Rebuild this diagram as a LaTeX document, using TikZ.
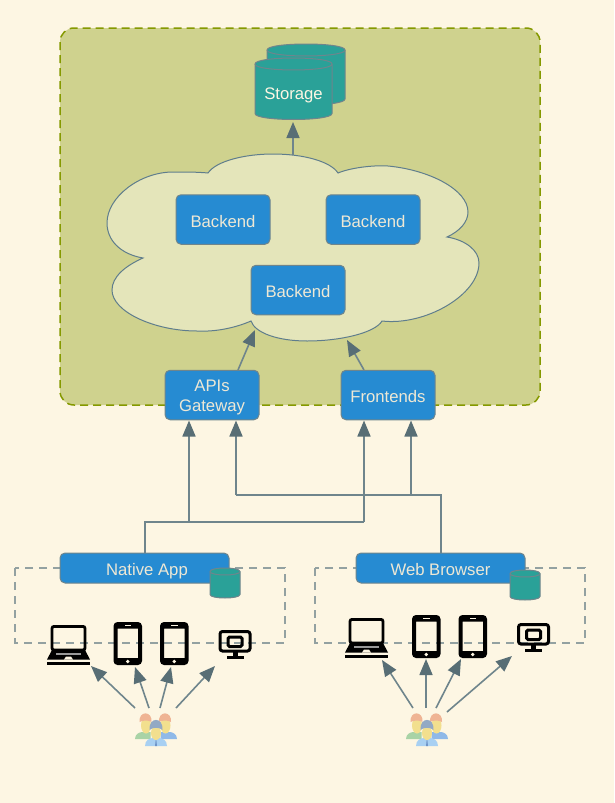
\documentclass[tikz,border=0pt]{standalone}
\usepackage{fontspec}
\setmainfont{Liberation Sans}
\usetikzlibrary{arrows.meta}
\definecolor{bgc}{HTML}{FDF6E3}
\definecolor{panelc}{HTML}{CFD28E}
\definecolor{paneledge}{HTML}{859900}
\definecolor{cloudc}{HTML}{E4E5BA}
\definecolor{cloudedge}{HTML}{5F7D8C}
\definecolor{bluec}{HTML}{268BD2}
\definecolor{tealc}{HTML}{2AA198}
\definecolor{edgec}{HTML}{6F858C}
\definecolor{tipc}{HTML}{586E75}
\definecolor{txtc}{HTML}{EEE8D5}
\definecolor{dashc}{HTML}{93A1A1}
\definecolor{hairc}{HTML}{EFB494}
\definecolor{facec}{HTML}{F2DF8E}
\definecolor{greenb}{HTML}{A9D3A6}
\definecolor{blueb}{HTML}{8FB9E8}
\definecolor{frontb}{HTML}{A8D0F2}
\definecolor{hairf}{HTML}{93A9C4}
\definecolor{tiec}{HTML}{6F95C8}
\newcommand{\dn}[2][2.7pt]{\raisebox{-#1}[\height][\depth]{\vphantom{Apg}#2}}
\tikzset{
  x=1pt,y=-1pt,
  bluebox/.style={draw=edgec,line width=1pt,fill=bluec,rounded corners=5pt,text=txtc,font=\fontsize{16.7}{20}\selectfont,inner sep=0pt,minimum width=94pt,minimum height=49.5pt},
  appbox/.style={bluebox,minimum width=169pt,minimum height=30pt},
  flow/.style={draw=edgec,line width=1.6pt,-{Triangle[length=16pt,width=13pt,color=tipc,fill=tipc]}},
  flowplain/.style={draw=edgec,line width=1.6pt},
  dropbox/.style={draw=dashc,line width=1.3pt,dash pattern=on 8pt off 6pt},
  cyl/.style={draw=edgec,line width=1pt,fill=tealc},
  pics/laptop/.style={code={
    \draw[black,line width=2.8pt,rounded corners=2pt] (5,1.4) rectangle (38,25);
    \fill[black] (5,25) -- (38,25) -- (43,34.5) -- (0,34.5) -- cycle;
    \fill[bgc] (17,34.5) -- (19,31.5) -- (24,31.5) -- (26,34.5) -- cycle;
    \fill[gray!80] (9,28) rectangle (34,29.5);
    \fill[black] (0,36.5) rectangle (43,39.5);
  }},
  pics/phone/.style={code={
    \fill[black,even odd rule,rounded corners=4pt] (0,0) rectangle (28.5,43)
      [sharp corners] (4,6.5) rectangle (24.5,36);
    \fill[bgc] (11,2.5) rectangle (17.5,4);
    \fill[bgc] (14.25,39.5) circle (1.9pt);
  }},
  pics/monitor/.style={code={
    \draw[black,line width=3pt,rounded corners=2.5pt] (1.5,1.5) rectangle (31.5,21);
    \draw[black,line width=3pt,rounded corners=1.5pt] (9.5,7) rectangle (23.5,16.5);
    \fill[black] (14,22) rectangle (19,26);
    \fill[black] (8,26) rectangle (25,29);
  }},
  pics/people/.style={code={
    % back figures
    \fill[greenb] (-20.5,19) .. controls (-20.5,14) and (-16,12) .. (-13,12) -- (-5,12) -- (-5,19) -- cycle;
    \fill[blueb] (21.5,19) .. controls (21.5,14) and (17,12) .. (14,12) -- (5,12) -- (5,19) -- cycle;
    \fill[facec] (-9.5,5.5) ellipse (5pt and 8pt);
    \fill[facec] (10,5.5) ellipse (5pt and 8pt);
    \fill[hairc] (-16,2) .. controls (-17,-9.5) and (-3,-9.5) .. (-4,2) .. controls (-7,0) and (-12,0) .. cycle;
    \fill[hairc] (3.5,2) .. controls (2.5,-9.5) and (16.5,-9.5) .. (15.5,2) .. controls (12.5,0) and (7,0) .. cycle;
    % front figure
    \fill[frontb] (-10.5,26) .. controls (-10.5,20) and (-6,18) .. (-2,18) -- (3,18) .. controls (7,18) and (11.5,20) .. (11.5,26) -- cycle;
    \fill[tiec] (0.5,17) -- (1.5,26) -- (-0.5,26) -- cycle;
    \fill[facec] (0.5,13) ellipse (5pt and 7pt);
    \fill[hairf] (-6,10) .. controls (-7,-3.5) and (8,-3.5) .. (7,10) .. controls (4,7) and (-3,7) .. cycle;
  }}
}
\newcommand{\cylpath}[5]{% x1 x2 ytop ybottom half-height of the ellipse
  \path[cyl] (#1,#3+#5) .. controls (#1,#3-#5/3) and (#2,#3-#5/3) .. (#2,#3+#5)
    -- (#2,#4-#5) .. controls (#2,#4+#5/3) and (#1,#4+#5/3) .. (#1,#4-#5) -- cycle;
  \draw[edgec,line width=1pt] (#1,#3+#5) .. controls (#1,#3+#5*2.33) and (#2,#3+#5*2.33) .. (#2,#3+#5);
}
\begin{document}
\begin{tikzpicture}
\path[fill=bgc] (0,0) rectangle (614,803);
\useasboundingbox (0,0) rectangle (614,803);

% server panel
\path[fill=panelc,draw=paneledge,line width=1.5pt,dash pattern=on 8pt off 5pt,rounded corners=14pt] (60,28) rectangle (540,405);

% storage
\cylpath{267}{345}{44}{105}{6}
\cylpath{255}{332}{58}{119.5}{6}
\node[text=bgc,font=\fontsize{16.7}{20}\selectfont,inner sep=0pt] (storage) at (293.5,95) {Storage};
\coordinate (storetip) at (293,122);

% cloud
\path[draw=cloudedge,fill=cloudc,line width=1pt] (208,173)
  .. controls (216,161) and (245,154) .. (273,154)
  .. controls (305,154) and (331,162) .. (338,173)
  .. controls (350,168) and (372,165) .. (388,166)
  .. controls (430,170) and (468,190) .. (468,212)
  .. controls (468,222) and (460,231) .. (447,237)
  .. controls (465,240) and (479,250) .. (479,263)
  .. controls (479,295) and (425,326) .. (382,321)
  .. controls (375,333) and (340,341) .. (307,341)
  .. controls (278,341) and (255,333) .. (251,321)
  .. controls (235,328) and (215,332) .. (197,331)
  .. controls (155,331) and (112,312) .. (112,290)
  .. controls (112,277) and (125,266) .. (143,258)
  .. controls (120,254) and (107,240) .. (107,223)
  .. controls (107,197) and (140,172) .. (173,172)
  .. controls (185,172) and (198,172) .. (208,173) -- cycle;
\coordinate (cloudtop) at (293,155);
\coordinate (cloudgw) at (255,330);
\coordinate (cloudfe) at (347,340);

\node[bluebox] (b1) at (223,219.5) {\dn[3.3pt]{Backend}};
\node[bluebox] (b2) at (373,219.5) {\dn[3.3pt]{Backend}};
\node[bluebox] (b3) at (298,290) {\dn{Backend}};
\node[bluebox] (gw) at (212,395) {\dn{\begin{tabular}{@{}c@{}}APIs\\Gateway\end{tabular}}};
\node[bluebox] (fe) at (388,395) {\dn{Frontends}};

\draw[flow] (cloudtop) -- (storetip);
\coordinate (gwtop) at (238,370);
\coordinate (fetop) at (364,370);
\draw[flow] (gwtop) -- (cloudgw);
\draw[flow] (fetop) -- (cloudfe);

% client groups
\path[dropbox] (15,568) rectangle (285,643);
\path[dropbox] (315,568) rectangle (585,643);

\draw[flowplain] (145,553) -- (145,522) -- (364,522);
\draw[flowplain] (441,553) -- (441,495) -- (236,495);

\node[appbox] (native) at (144.5,568) {\hspace{5pt}\dn[3.4pt]{Native App}};
\node[appbox] (web) at (440.5,568) {\dn[3.4pt]{Web Browser}};
\cylpath{210}{240}{568}{598}{3.5}
\cylpath{510}{540}{570}{600}{3.5}

% connectors into gateway / frontends
\coordinate (gwa) at (189,420.5);
\coordinate (gwb) at (236,420.5);
\coordinate (fea) at (364,420.5);
\coordinate (feb) at (411,420.5);
\coordinate (nj1) at (189,522);
\coordinate (nj2) at (364,522);
\coordinate (wj1) at (236,495);
\coordinate (wj2) at (411,495);
\draw[flow] (nj1) -- (gwa);
\draw[flow] (nj2) -- (fea);
\draw[flow] (wj1) -- (gwb);
\draw[flow] (wj2) -- (feb);

% devices, left
\pic at (47,625) {laptop};
\pic at (113.5,622) {phone};
\pic at (160,622) {phone};
\pic at (218.5,630) {monitor};
% devices, right
\pic at (345,618) {laptop};
\pic at (412,615) {phone};
\pic at (458.5,615) {phone};
\pic at (517,623) {monitor};

\pic at (155.5,720) {people};
\pic at (426.5,720) {people};

\coordinate (l1) at (135,708); \coordinate (l1t) at (91,666);
\coordinate (l2) at (149,708); \coordinate (l2t) at (135,667);
\coordinate (l3) at (160,708); \coordinate (l3t) at (171,667);
\coordinate (l4) at (176,708); \coordinate (l4t) at (215,666);
\coordinate (r1) at (413,708); \coordinate (r1t) at (382,660);
\coordinate (r2) at (426,708); \coordinate (r2t) at (426,659);
\coordinate (r3) at (436,708); \coordinate (r3t) at (461,659);
\coordinate (r4) at (447,712); \coordinate (r4t) at (512,656);
\foreach \a/\b in {l1/l1t,l2/l2t,l3/l3t,l4/l4t,r1/r1t,r2/r2t,r3/r3t,r4/r4t}
  \draw[flow] (\a) -- (\b);
\end{tikzpicture}
\end{document}
